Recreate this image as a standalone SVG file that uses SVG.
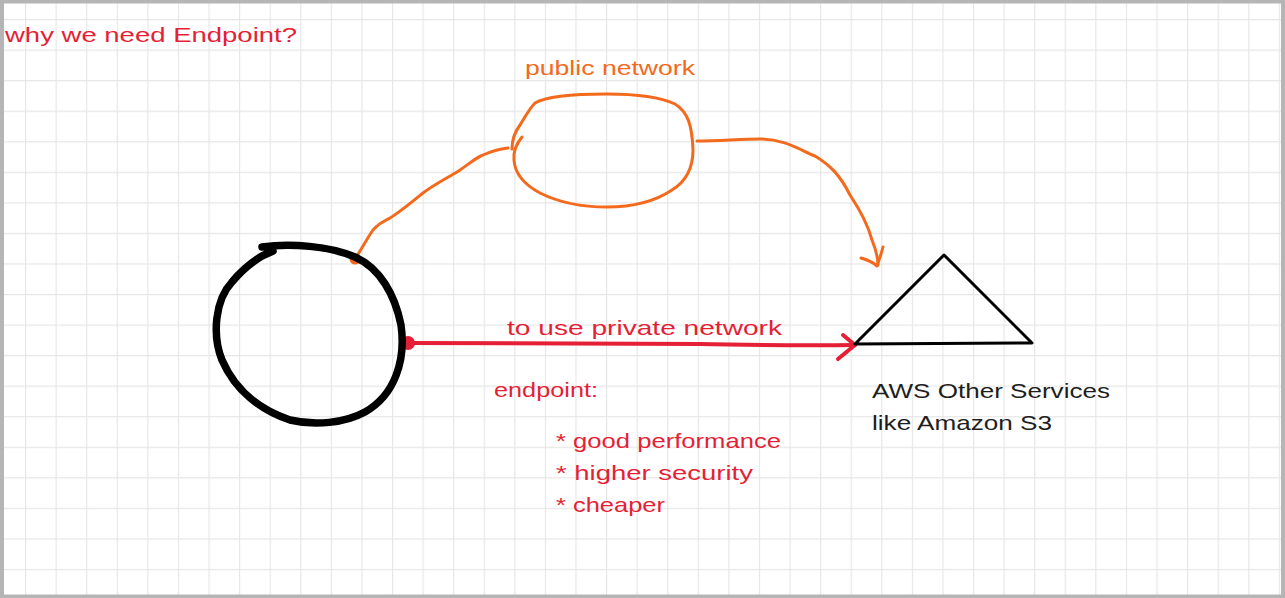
<svg xmlns="http://www.w3.org/2000/svg" width="1285" height="598" viewBox="0 0 1285 598">
  <defs>
    <pattern id="grid" patternUnits="userSpaceOnUse" x="25" y="19" width="30.58" height="30.55">
      <path d="M0.5,0 V30.55 M0,0.5 H30.58" stroke="#e6e6e6" stroke-width="1.3" fill="none"/>
    </pattern>
    <style>
      .t { font-family: "Liberation Sans", "Open Sans", sans-serif; font-size: 21px; }
      .red { fill: #e51f35; }
      .org { fill: #f36a1c; }
      .blk { fill: #1e1e1e; }
      .s-org { fill: none; stroke: #f36a1c; stroke-width: 3; stroke-linecap: round; stroke-linejoin: round; }
      .s-red { fill: none; stroke: #e51f35; stroke-width: 4; stroke-linecap: round; stroke-linejoin: round; }
      .s-blk { fill: none; stroke: #000; stroke-linecap: round; stroke-linejoin: round; }
    </style>
  </defs>
  <rect x="0" y="0" width="1285" height="598" fill="#ffffff"/>
  <rect x="0" y="0" width="1285" height="598" fill="url(#grid)"/>
  <rect x="2" y="1.5" width="1281" height="595" fill="none" stroke="#b5b5b5" stroke-width="4"/>

  <text id="title" class="t red" x="5" y="42" font-size="23" textLength="292" lengthAdjust="spacingAndGlyphs">why we need Endpoint?</text>

  <g id="connectors">
    <circle cx="355" cy="259" r="5.5" fill="#f36a1c"/>
    <path class="s-org" d="M355,259 C360,252 366,240 373,230 C380,222 385,221 390,218 C400,212 412,202 423,193 C435,184 447,178 457,172 C468,165 475,158 483,155 C492,151 500,149 508,148"/>
    <path class="s-org" d="M697,141 C720,141 740,139 760,139 C785,139 800,150 815,156 C830,165 840,175 850,195 C860,210 868,225 872,240 C876,250 878,258 878,265"/>
    <path class="s-org" d="M861,258 C868,260 873,262 877,266 M883,247 C881,255 879,260 877,266"/>
    <circle cx="408" cy="343" r="7" fill="#e51f35"/>
    <path class="s-red" d="M408,343 C500,343 600,343 700,344 C760,345 790,346 855,345"/>
    <path class="s-red" d="M843,335 L855,345 L838,359"/>
  </g>

  <g id="vpc">
    <path class="s-blk" stroke-width="7.5" d="M262,247 C290,243 330,246 355,257 C380,268 395,295 401,325 C406,360 395,395 365,412 C345,423 315,426 290,420 C260,410 235,390 222,360 C212,335 215,300 232,282 C242,270 252,262 262,256 L273,251"/>
  </g>

  <g id="public-network">
    <path class="s-org" d="M512,149 C512,140 514,133 520,125 C526,115 530,108 535,103 C545,97 570,94 607,94 C640,94 660,97 675,104 C688,112 692,125 693,150 C693,170 685,182 672,190 C660,198 640,207 607,207 C580,207 560,203 540,193 C525,185 515,175 514,160 C513,150 517,143 522,137"/>
    <text class="t org" x="525" y="75" textLength="170" lengthAdjust="spacingAndGlyphs">public network</text>
  </g>

  <g id="aws-services">
    <path class="s-blk" stroke-width="3" d="M944,255 L1032,343 L855,344 Z"/>
    <text class="t blk" x="872" y="398" font-size="22" textLength="238" lengthAdjust="spacingAndGlyphs">AWS Other Services</text>
    <text class="t blk" x="872" y="430" font-size="22" textLength="180" lengthAdjust="spacingAndGlyphs">like Amazon S3</text>
  </g>

  <g id="labels">
    <text class="t red" x="507" y="335" textLength="275" lengthAdjust="spacingAndGlyphs">to use private network</text>
    <text class="t red" x="494" y="397" textLength="104" lengthAdjust="spacingAndGlyphs">endpoint:</text>
    <text class="t red" x="556" y="448" textLength="225" lengthAdjust="spacingAndGlyphs">* good performance</text>
    <text class="t red" x="556" y="480" textLength="197" lengthAdjust="spacingAndGlyphs">* higher security</text>
    <text class="t red" x="556" y="512" textLength="109" lengthAdjust="spacingAndGlyphs">* cheaper</text>
  </g>
</svg>
